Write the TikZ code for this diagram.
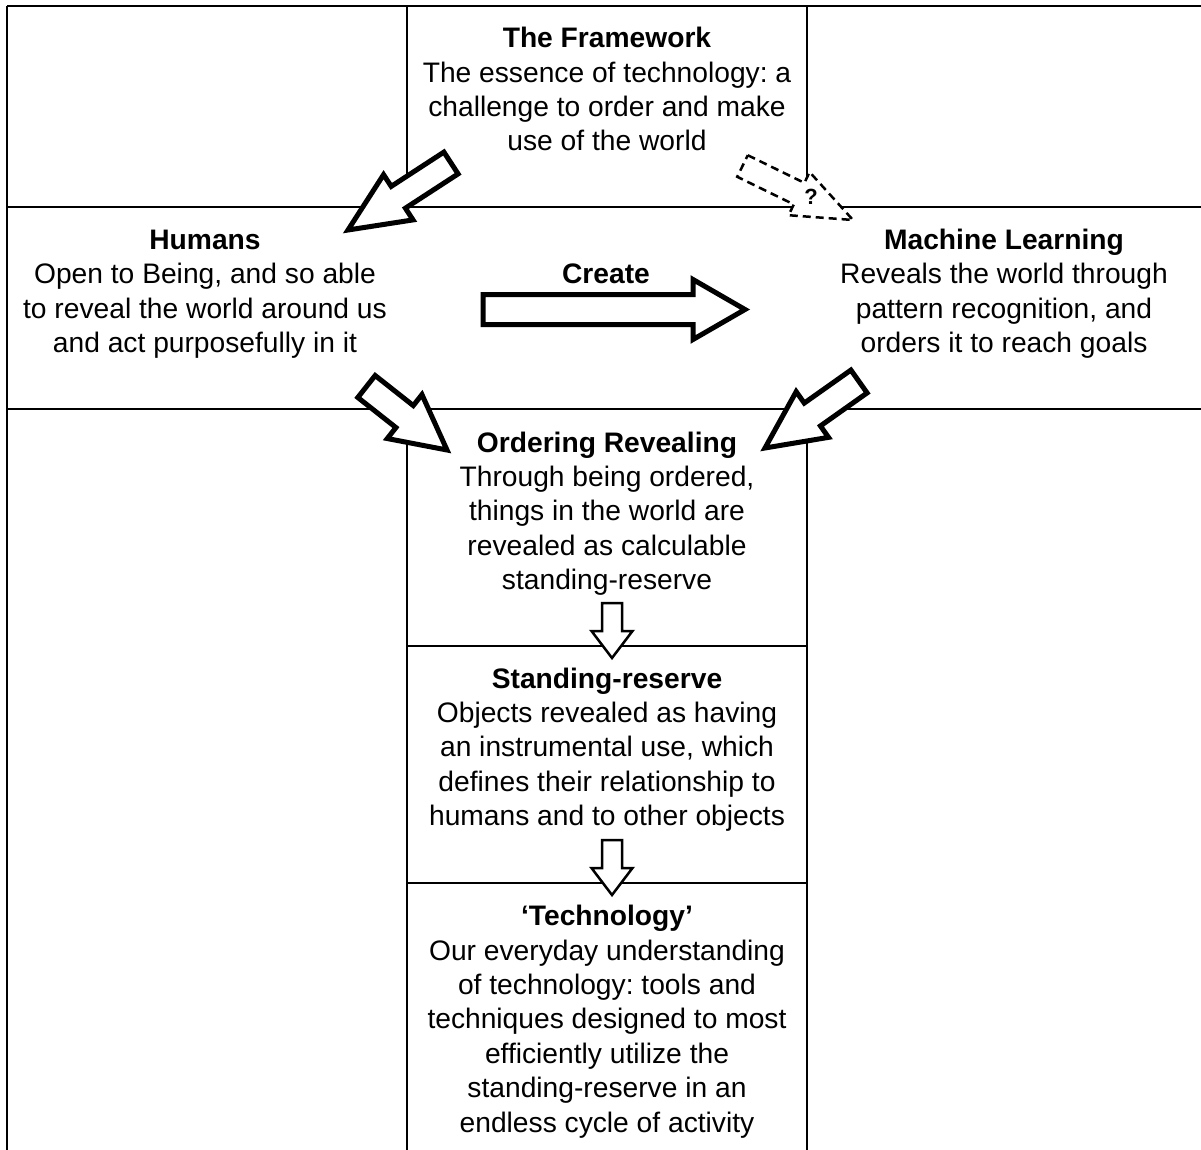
\documentclass[tikz,border=0pt]{standalone}
\usepackage{fontspec}
\setmainfont{Liberation Sans}
\usetikzlibrary{calc}
% #1 style, #2 tail, #3 tip, #4 shaft half width, #5 head half width, #6 head length
\newcommand\myblockarrow[6]{%
  \path ($(#3)!#6!(#2)$) coordinate (nk);
  \draw[#1] ($(#2)!#4!90:(#3)$) -- ($(nk)!#4!90:(#3)$) -- ($(nk)!#5!90:(#3)$) -- (#3)
    -- ($(nk)!#5!-90:(#3)$) -- ($(nk)!#4!-90:(#3)$) -- ($(#2)!#4!-90:(#3)$) -- cycle;}
\begin{document}
\frenchspacing
\begin{tikzpicture}[x=1pt,y=-1pt,
  grid/.style={line width=1.5pt, black},
  txt/.style={align=center, inner sep=0pt, font=\frenchspacing\fontsize{28.2}{34.4}\selectfont},
  bigarrow/.style={draw=black, fill=white, line width=5pt, line join=miter, miter limit=10},
  smallarrow/.style={draw=black, fill=white, line width=2.5pt, line join=miter, miter limit=10},
  dasharrow/.style={draw=black, fill=white, line width=2.5pt, dash pattern=on 8pt off 5pt, line join=miter, miter limit=10}]
\useasboundingbox (0,0) rectangle (1201,1150);
% grid
\draw[line width=2.5pt] (7,6) -- (1201,6);
\draw[line width=2pt] (7,6) -- (7,1150);
\draw[grid] (407,6) -- (407,207);
\draw[grid] (807,6) -- (807,207);
\draw[grid] (407,409) -- (407,1150);
\draw[grid] (807,409) -- (807,1150);
\draw[grid] (7,207) -- (1201,207);
\draw[grid] (7,409) -- (1201,409);
\draw[grid] (407,646) -- (807,646);
\draw[grid] (407,883) -- (807,883);
% arrow coordinates
\coordinate (a1t) at (451,163);   \coordinate (a1p) at (348,230);
\coordinate (a2t) at (366.5,386.5); \coordinate (a2p) at (447,450);
\coordinate (a3t) at (859,381.5); \coordinate (a3p) at (765,448);
\coordinate (crt) at (483,309.5); \coordinate (crp) at (745,309.5);
\coordinate (qt) at (742.5,166);  \coordinate (qp) at (853,220);
\coordinate (d1t) at (612,603);   \coordinate (d1p) at (612,658);
\coordinate (d2t) at (612,840);   \coordinate (d2p) at (612,895);
\myblockarrow{bigarrow}{a1t}{a1p}{13pt}{27pt}{60pt}
\myblockarrow{bigarrow}{a2t}{a2p}{14pt}{28pt}{54pt}
\myblockarrow{bigarrow}{a3t}{a3p}{14pt}{28pt}{58pt}
\myblockarrow{bigarrow}{crt}{crp}{15pt}{30pt}{52pt}
\myblockarrow{dasharrow}{qt}{qp}{12pt}{24pt}{60pt}
\myblockarrow{smallarrow}{d1t}{d1p}{10pt}{20.5pt}{27pt}
\myblockarrow{smallarrow}{d2t}{d2p}{10pt}{20.5pt}{27pt}
\node[font=\bfseries\fontsize{22}{26}\selectfont, inner sep=0pt] (q) at (811,197) {?};
% texts
\node[txt] (fw) at (607,92.5) {\strut\textbf{The Framework}\\\strut The essence of technology: a\\\strut challenge to order and make\\\strut use of the world};
\node[txt] (hum) at (205,294) {\strut\textbf{Humans}\\\strut Open to Being, and so able\\\strut to reveal the world around us\\\strut and act purposefully in it};
\node[txt] (ml) at (1004,294) {\strut\textbf{Machine Learning}\\\strut Reveals the world through\\\strut pattern recognition, and\\\strut orders it to reach goals};
\node[txt] (create) at (606,277) {\strut\textbf{Create}};
\node[txt] (ord) at (607,514) {\strut\textbf{Ordering Revealing}\\\strut Through being ordered,\\\strut things in the world are\\\strut revealed as calculable\\\strut standing-reserve};
\node[txt] (sr) at (607,750) {\strut\textbf{Standing-reserve}\\\strut Objects revealed as having\\\strut an instrumental use, which\\\strut defines their relationship to\\\strut humans and to other objects};
\node[txt] (tech) at (607,1022) {\strut\textbf{‘Technology’}\\\strut Our everyday understanding\\\strut of technology: tools and\\\strut techniques designed to most\\\strut efficiently utilize the\\\strut standing-reserve in an\\\strut endless cycle of activity};
\end{tikzpicture}
\end{document}
